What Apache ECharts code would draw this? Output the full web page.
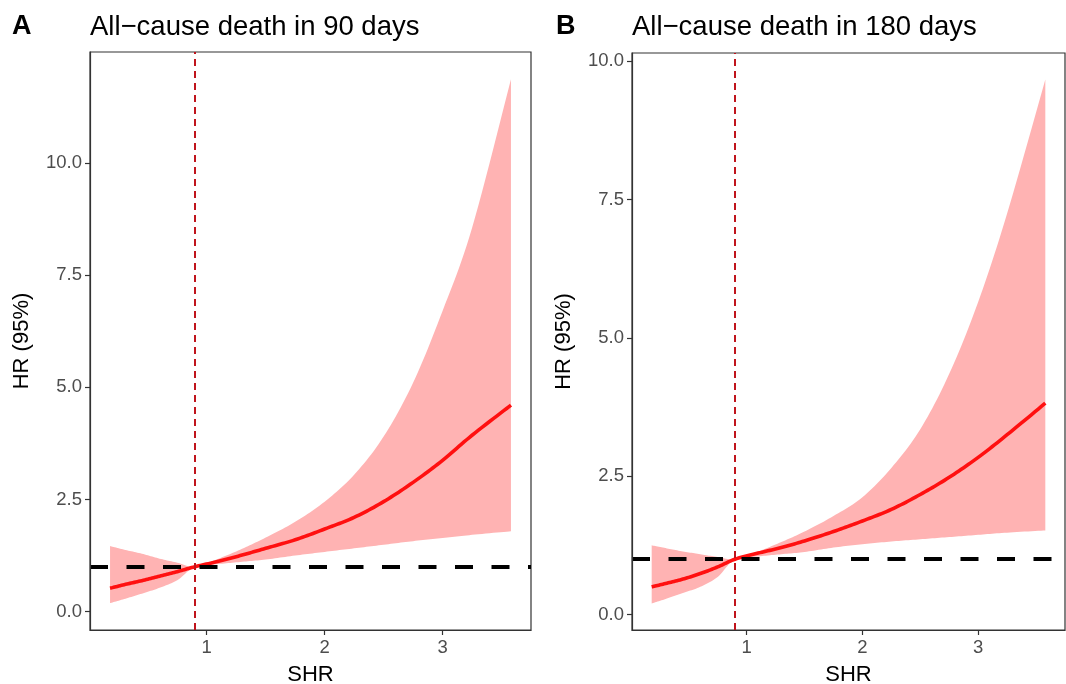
<!DOCTYPE html>
<html>
<head>
<meta charset="utf-8">
<script src="https://cdn.jsdelivr.net/npm/echarts@6/dist/echarts.min.js"></script>
<style>
  html, body { margin: 0; padding: 0; background: #fff; }
  #main { width: 1066px; height: 684px; }
</style>
</head>
<body>
<div id="main"></div>
<script>
// SHR grid shared by both panels
var shr = [0.18, 0.3, 0.45, 0.6, 0.75, 0.9, 1.1, 1.3, 1.5, 1.75, 2.0, 2.25, 2.5, 2.75, 3.0, 3.25, 3.58];

// panel A: 90 days
var hr90 = [0.52, 0.6, 0.69, 0.79, 0.89, 1.0, 1.12, 1.26, 1.41, 1.6, 1.84, 2.1, 2.45, 2.88, 3.37, 3.93, 4.6];
var up90 = [1.46, 1.38, 1.29, 1.18, 1.09, 1.0, 1.18, 1.4, 1.65, 2.0, 2.45, 3.05, 3.9, 5.1, 6.7, 8.55, 11.86];
var lo90 = [0.19, 0.28, 0.4, 0.53, 0.7, 1.0, 1.06, 1.11, 1.16, 1.25, 1.33, 1.41, 1.49, 1.57, 1.64, 1.71, 1.79];

// panel B: 180 days
var hr180 = [0.5, 0.56, 0.64, 0.74, 0.86, 1.0, 1.11, 1.21, 1.33, 1.5, 1.69, 1.9, 2.17, 2.48, 2.84, 3.25, 3.82];
var up180 = [1.25, 1.2, 1.14, 1.09, 1.04, 1.0, 1.14, 1.31, 1.5, 1.78, 2.12, 2.65, 3.35, 4.35, 5.65, 7.25, 9.67];
var lo180 = [0.2, 0.28, 0.39, 0.5, 0.68, 1.0, 1.05, 1.09, 1.13, 1.21, 1.27, 1.32, 1.36, 1.4, 1.44, 1.48, 1.52];

var xTicks = [1, 2, 3];
var yTicks = [0, 2.5, 5, 7.5, 10];
var cutoff = 0.9; // vertical dashed line
var refHR = 1;    // horizontal reference

var FONT = "Liberation Sans";

function pairs(xs, ys) {
  return xs.map(function (x, i) { return [x, ys[i]]; });
}

// catmull-rom through pixel points, sampled for a smooth edge
function smoothPts(p) {
  var out = [], n = p.length, steps = 12;
  for (var i = 0; i < n - 1; i++) {
    var p0 = p[Math.max(i - 1, 0)], p1 = p[i], p2 = p[i + 1], p3 = p[Math.min(i + 2, n - 1)];
    var c1 = [p1[0] + (p2[0] - p0[0]) / 6, p1[1] + (p2[1] - p0[1]) / 6];
    var c2 = [p2[0] - (p3[0] - p1[0]) / 6, p2[1] - (p3[1] - p1[1]) / 6];
    for (var s = 0; s < steps; s++) {
      var t = s / steps, u = 1 - t;
      out.push([
        u * u * u * p1[0] + 3 * u * u * t * c1[0] + 3 * u * t * t * c2[0] + t * t * t * p2[0],
        u * u * u * p1[1] + 3 * u * u * t * c1[1] + 3 * u * t * t * c2[1] + t * t * t * p2[1]
      ]);
    }
  }
  out.push(p[n - 1]);
  return out;
}

function xAxisCfg(idx) {
  return {
    type: "value", gridIndex: idx, min: 0.01, max: 3.75, z: 10,
    name: "SHR", nameLocation: "middle", nameGap: 34,
    nameTextStyle: { fontFamily: FONT, fontSize: 22, color: "#000" },
    axisLine: { show: true, onZero: false, lineStyle: { color: "#333", width: 1.2 } },
    axisTick: { show: true, length: 5, customValues: xTicks, lineStyle: { color: "#333", width: 1.2 } },
    axisLabel: { customValues: xTicks, fontFamily: FONT, fontSize: 18.5, color: "#4d4d4d", margin: 8 },
    splitLine: { show: false }
  };
}
function yAxisCfg(idx, min, max) {
  return {
    type: "value", gridIndex: idx, min: min, max: max, z: 10,
    name: "HR (95%)", nameLocation: "middle", nameGap: 57,
    nameTextStyle: { fontFamily: FONT, fontSize: 22, color: "#000" },
    axisLine: { show: true, onZero: false, lineStyle: { color: "#333", width: 1.2 } },
    axisTick: { show: true, length: 5, customValues: yTicks, lineStyle: { color: "#333", width: 1.2 } },
    axisLabel: {
      customValues: yTicks, fontFamily: FONT, fontSize: 18.5, color: "#4d4d4d", margin: 8,
      formatter: function (v) { return v.toFixed(1); }
    },
    splitLine: { show: false }
  };
}

function panelSeries(idx, hr, up, lo) {
  return [
    // 95% CI ribbon
    {
      type: "custom", xAxisIndex: idx, yAxisIndex: idx, silent: true, z: 1, clip: true,
      data: [[shr[0], lo[0]]],
      renderItem: function (params, api) {
        var top = shr.map(function (x, i) { return api.coord([x, up[i]]); });
        var bot = shr.map(function (x, i) { return api.coord([x, lo[i]]); });
        var pts = smoothPts(top).concat(smoothPts(bot).reverse());
        return { type: "polygon", shape: { points: pts }, style: { fill: "#ffb3b3", stroke: null } };
      }
    },
    // reference lines (the series line itself is hidden)
    {
      type: "line", xAxisIndex: idx, yAxisIndex: idx, silent: true,
      data: pairs(shr, hr), symbol: "none",
      lineStyle: { opacity: 0 }, z: 2,
      markLine: {
        silent: true, symbol: "none", label: { show: false },
        data: [
          { yAxis: refHR, lineStyle: { color: "#000", width: 4, type: [18, 18.5] } },
          { xAxis: cutoff, lineStyle: { color: "#c0141c", width: 2, type: [7, 5] } }
        ]
      }
    },
    // HR curve
    {
      type: "custom", xAxisIndex: idx, yAxisIndex: idx, silent: true, z: 4, clip: true,
      data: [[shr[0], hr[0]]],
      renderItem: function (params, api) {
        var p = shr.map(function (x, i) { return api.coord([x, hr[i]]); });
        return {
          type: "polyline", shape: { points: smoothPts(p) },
          style: { stroke: "#ff1010", lineWidth: 3.6, fill: null, lineJoin: "round" }
        };
      }
    }
  ];
}

var chart = echarts.init(document.getElementById("main"), null, { renderer: "canvas" });
var option = {
  backgroundColor: "#fff",
  animation: false,
  title: [
    { text: "A", left: 12, top: 13, padding: 0, textStyle: { fontFamily: FONT, fontSize: 27, fontWeight: "bold", color: "#000" } },
    { text: "All\u2212cause death in 90 days", left: 90, top: 13, padding: 0, textStyle: { fontFamily: FONT, fontSize: 27.5, fontWeight: "normal", color: "#000" } },
    { text: "B", left: 556, top: 13, padding: 0, textStyle: { fontFamily: FONT, fontSize: 27, fontWeight: "bold", color: "#000" } },
    { text: "All\u2212cause death in 180 days", left: 632, top: 13, padding: 0, textStyle: { fontFamily: FONT, fontSize: 27.5, fontWeight: "normal", color: "#000" } }
  ],
  grid: [
    { left: 90, top: 52, width: 441, height: 578, outerBoundsMode: "none", containLabel: false, show: true, borderColor: "#333", borderWidth: 1.2, backgroundColor: "transparent" },
    { left: 632, top: 53, width: 433, height: 577, outerBoundsMode: "none", containLabel: false, show: true, borderColor: "#333", borderWidth: 1.2, backgroundColor: "transparent" }
  ],
  xAxis: [xAxisCfg(0), xAxisCfg(1)],
  yAxis: [yAxisCfg(0, -0.41, 12.47), yAxisCfg(1, -0.28, 10.15)],
  series: panelSeries(0, hr90, up90, lo90).concat(panelSeries(1, hr180, up180, lo180))
};
chart.setOption(option);
window.onresize = function () { chart.resize(); };
</script>
</body>
</html>
